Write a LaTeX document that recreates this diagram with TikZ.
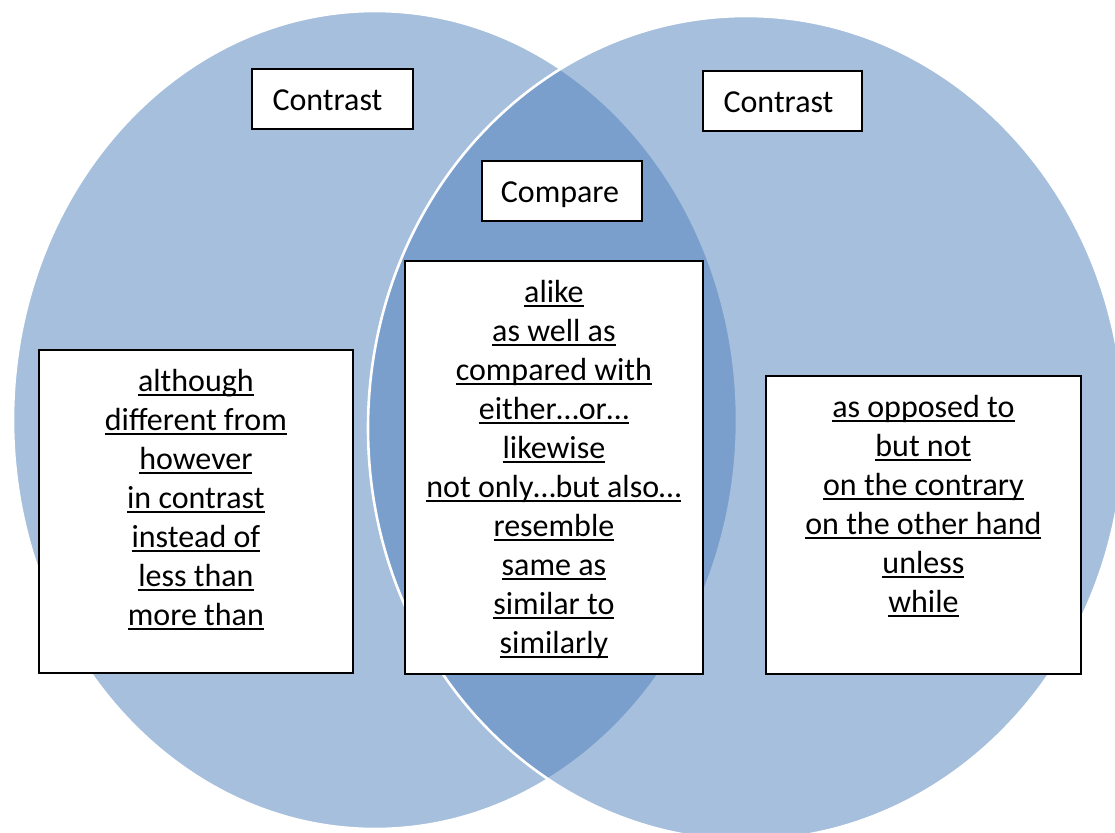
\documentclass[tikz,border=0pt]{standalone}
\usepackage{fontspec}
\setmainfont{Carlito}
\definecolor{offblue}{RGB}{79,129,189}
\newcommand\wul[1]{\leavevmode\setbox0\hbox{#1}\rlap{\rule[-4.4pt]{\wd0}{2.5pt}}\box0}
\newcommand\listtext[3]{\parbox[c][#2pt][t]{#1pt}{\centering\fontsize{32}{39}\selectfont\rule{0pt}{42pt}#3}}
\tikzset{
  venn/.style={fill=offblue, fill opacity=0.5, draw=white, line width=2.6pt},
  titlebox/.style={draw=black, line width=1.8pt, fill=white, inner sep=0pt,
    text height=23pt, text depth=0pt, font=\fontsize{32}{39}\selectfont},
  listbox/.style={draw=black, line width=1.8pt, fill=white, inner sep=0pt, anchor=north west}
}
\begin{document}
\begin{tikzpicture}[x=1pt,y=-1pt]
\clip (0,0) rectangle (1115,832);
\fill[white] (0,0) rectangle (1115,832);
\path[venn] (375,420) ellipse [x radius=362, y radius=409];
\path[venn] (746,428) ellipse [x radius=378, y radius=412];
\node[titlebox, minimum width=161, minimum height=60] (c1) at (332.5,99) {Contrast\kern10pt};
\node[titlebox, minimum width=159, minimum height=60] (c2) at (782.5,101) {Contrast\kern8pt};
\node[titlebox, minimum width=160, minimum height=60] (cmp) at (562,191) {Compare\kern4pt};
\node[listbox] (L) at (38,349) {\listtext{314}{323}{\wul{although}\\\wul{different from}\\\wul{however}\\\wul{in contrast}\\\wul{instead of}\\\wul{less than}\\\wul{more than}}};
\node[listbox] (M) at (404,260) {\listtext{298}{413}{\wul{alike}\\\wul{as well as}\\\wul{compared with}\\\wul{either…or…}\\\wul{likewise}\\\wul{not only…but also…}\\\wul{resemble}\\\wul{same as}\\\wul{similar to}\\\wul{similarly}}};
\node[listbox] (R) at (765,375) {\listtext{315}{298}{\wul{as opposed to}\\\wul{but not}\\\wul{on the contrary}\\\wul{on the other hand}\\\wul{unless}\\\wul{while}}};
\end{tikzpicture}
\end{document}
